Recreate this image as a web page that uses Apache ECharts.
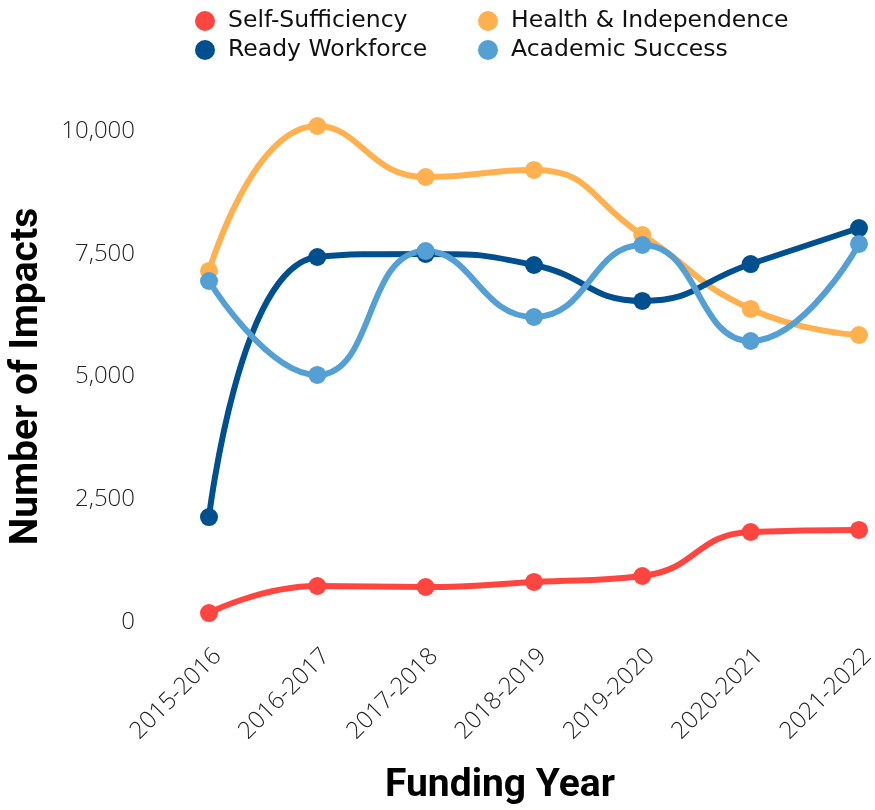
<!DOCTYPE html>
<html><head><meta charset="utf-8">
<script src="https://cdn.jsdelivr.net/npm/echarts@6/dist/echarts.min.js"></script>
<style>html,body{margin:0;padding:0;background:#fff}#c{width:875px;height:810px}</style>
</head><body><div id="c"></div>
<script>
const categories = ['2015-2016','2016-2017','2017-2018','2018-2019','2019-2020','2020-2021','2021-2022'];
const selfSufficiency = [183, 733, 713, 815, 937, 1833, 1874];
const healthIndependence = [7149, 10102, 9063, 9206, 7882, 6375, 5845];
const readyWorkforce = [2138, 7434, 7495, 7271, 6538, 7291, 8024];
const academicSuccess = [6945, 5031, 7556, 6212, 7678, 5723, 7699];
const yTicks = [0, 2500, 5000, 7500, 10000];

const colors = {
  'Self-Sufficiency': '#ff4540',
  'Health & Independence': '#ffb04f',
  'Ready Workforce': '#00508f',
  'Academic Success': '#54a0d4'
};
function mk(name, data){
  return {name, type:'line', data, smooth:0.5, clip:false,
    symbol:'circle', symbolSize:18, showSymbol:true,
    lineStyle:{width:6, color:colors[name]}, itemStyle:{color:colors[name]}};
}
const legendText = {fontFamily:'DejaVu Sans', fontSize:23.5, color:'#111', padding:[0,0,0,8]};
const chart = echarts.init(document.getElementById('c'));
chart.setOption({
  animation:false,
  legend:[
    {orient:'vertical', left:190, top:4, itemGap:5, icon:'circle', itemWidth:20, itemHeight:20,
     textStyle:legendText, data:['Self-Sufficiency','Ready Workforce']},
    {orient:'vertical', left:473, top:4, itemGap:5, icon:'circle', itemWidth:20, itemHeight:20,
     textStyle:legendText, data:['Health & Independence','Academic Success']}
  ],
  grid:{left:209, right:16, top:131, bottom:188, containLabel:false, outerBoundsMode:'none'},
  xAxis:{type:'category', data:categories, boundaryGap:false,
    axisLine:{show:false}, axisTick:{show:false}, splitLine:{show:false},
    axisLabel:{rotate:45, fontFamily:'Open Sans', fontWeight:300, fontSize:24, color:'#222', margin:22, verticalAlign:'top'},
    name:'Funding Year', nameLocation:'middle', nameGap:145,
    nameTextStyle:{fontFamily:'Roboto', fontWeight:'bold', fontSize:39, color:'#000', padding:[0,68,0,0]}},
  yAxis:{type:'value', min:0, max:10000, interval:2500,
    axisLine:{show:false}, axisTick:{show:false}, splitLine:{show:false},
    axisLabel:{fontFamily:'Open Sans', fontWeight:300, fontSize:24, color:'#222', margin:74,
      formatter:v=>yTicks.includes(v)?v.toLocaleString('en-US'):''},
    name:'Number of Impacts', nameLocation:'middle', nameGap:162,
    nameTextStyle:{fontFamily:'Roboto', fontWeight:'bold', fontSize:39, color:'#000'}},
  series:[
    mk('Self-Sufficiency', selfSufficiency),
    mk('Health & Independence', healthIndependence),
    mk('Ready Workforce', readyWorkforce),
    mk('Academic Success', academicSuccess)
  ]
});
</script></body></html>
